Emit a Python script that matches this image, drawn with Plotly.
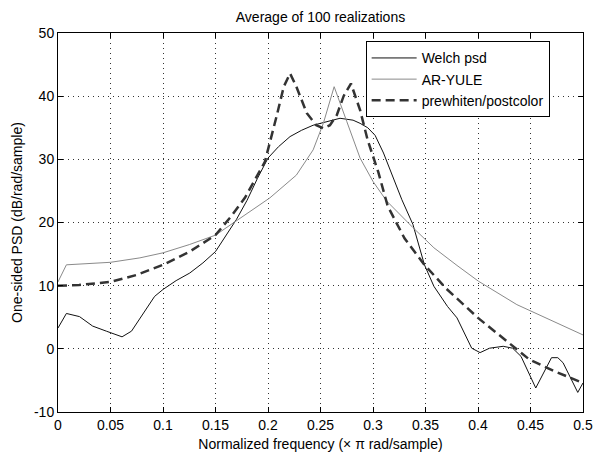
import plotly.graph_objects as go

# Welch psd
welch_f = [0.0, 0.008, 0.0205, 0.033, 0.046, 0.061, 0.070, 0.082, 0.092, 0.1, 0.1125, 0.1255, 0.138, 0.15, 0.16, 0.17, 0.18, 0.19,
           0.2, 0.21, 0.221, 0.232, 0.243, 0.256, 0.2686, 0.281, 0.2877, 0.295, 0.302, 0.31, 0.318, 0.3275, 0.338, 0.349,
           0.358, 0.371, 0.380, 0.394, 0.402, 0.411, 0.424, 0.433, 0.441, 0.455, 0.470, 0.476, 0.481, 0.495, 0.5]
welch_v = [3.3, 5.6, 5.1, 3.6, 2.8, 1.9, 2.8, 5.8, 8.3, 9.4, 10.8, 12.0, 13.6, 15.4, 18.0, 20.5, 23.5, 27.0,
           30.2, 32.0, 33.6, 34.6, 35.4, 36.0, 36.5, 36.2, 35.7, 35.0, 33.8, 31.0, 27.5, 23.6, 19.7, 13.3,
           9.9, 6.7, 4.9, 0.1, -0.6, 0.1, 0.4, 0.1, -1.2, -6.2, -1.4, -1.4, -2.2, -6.9, -5.4]

# AR-YULE
ar_f = [0.0, 0.008, 0.05, 0.078, 0.1, 0.125, 0.15, 0.175, 0.2018, 0.227, 0.243, 0.2527, 0.263, 0.275, 0.2877, 0.3,
        0.313, 0.338, 0.358, 0.38, 0.4005, 0.437, 0.468, 0.5]
ar_v = [10.6, 13.3, 13.7, 14.4, 15.2, 16.5, 18.0, 20.8, 23.9, 27.5, 31.5, 35.7, 41.5, 36.0, 30.2, 26.5,
        23.4, 19.2, 16.0, 13.2, 10.7, 7.0, 4.6, 2.2]

# prewhiten/postcolor
pw_f = [0.0, 0.02, 0.05, 0.075, 0.1, 0.1255, 0.15, 0.165, 0.178, 0.197, 0.208, 0.215, 0.221, 0.227, 0.237, 0.246, 0.2527,
        0.259, 0.2655, 0.272, 0.279, 0.2877, 0.295, 0.305, 0.314, 0.33, 0.349, 0.37, 0.4, 0.425, 0.449, 0.475, 0.5]
pw_v = [10.0, 10.1, 10.6, 11.7, 13.3, 15.4, 18.0, 21.0, 23.9, 29.6, 36.7, 41.5, 43.6, 41.5, 37.3, 35.4, 34.9,
        35.4, 37.0, 40.0, 42.0, 37.8, 33.0, 28.0, 22.6, 17.5, 13.3, 9.5, 4.9, 1.5, -1.7, -3.7, -5.4]

x_ticks = [0, 0.05, 0.1, 0.15, 0.2, 0.25, 0.3, 0.35, 0.4, 0.45, 0.5]
x_tick_labels = ["0", "0.05", "0.1", "0.15", "0.2", "0.25", "0.3", "0.35", "0.4", "0.45", "0.5"]
y_ticks = [-10, 0, 10, 20, 30, 40, 50]
y_tick_labels = ["-10", "0", "10", "20", "30", "40", "50"]

fig = go.Figure()
fig.add_trace(go.Scatter(x=welch_f, y=welch_v, mode="lines", name="Welch psd",
                         line=dict(color="#111111", width=1)))
fig.add_trace(go.Scatter(x=ar_f, y=ar_v, mode="lines", name="AR-YULE",
                         line=dict(color="#8a8a8a", width=1)))
fig.add_trace(go.Scatter(x=pw_f, y=pw_v, mode="lines", name="prewhiten/postcolor",
                         line=dict(color="#333333", width=2.5, dash="9px,5px")))

axis_common = dict(showline=True, linecolor="black", linewidth=1, mirror="ticks",
                   ticks="inside", ticklen=5, tickcolor="black",
                   showgrid=True, gridcolor="#333333", gridwidth=1, griddash="1px,4px",
                   zeroline=False, tickfont=dict(size=14, color="black"))

fig.update_layout(
    width=593, height=452,
    paper_bgcolor="white", plot_bgcolor="white",
    font=dict(family="Liberation Sans, Arial, sans-serif", size=14, color="black"),
    margin=dict(l=58, r=10, t=33, b=40),
    title=dict(text="Average of 100 realizations", x=(58 + 583) / 2 / 593, xanchor="center",
               y=1 - 17 / 452, yanchor="middle", font=dict(size=14)),
    xaxis=dict(range=[0, 0.5], tickvals=x_ticks, ticktext=x_tick_labels, automargin=False,
               title=dict(text="Normalized frequency (× π rad/sample)", font=dict(size=14)),
               **axis_common),
    yaxis=dict(range=[-10, 50], tickvals=y_ticks, ticktext=y_tick_labels, automargin=True,
               title=dict(text="One-sided PSD (dB/rad/sample)", standoff=8, font=dict(size=14)),
               **axis_common),
    legend=dict(x=0.586, y=0.978, xanchor="left", yanchor="top",
                bgcolor="white", bordercolor="black", borderwidth=1, itemwidth=45,
                font=dict(size=14), tracegroupgap=0),
    showlegend=True,
)

fig.write_html("out.html", config={"displayModeBar": False},
               post_script="document.body.style.margin='0';")
